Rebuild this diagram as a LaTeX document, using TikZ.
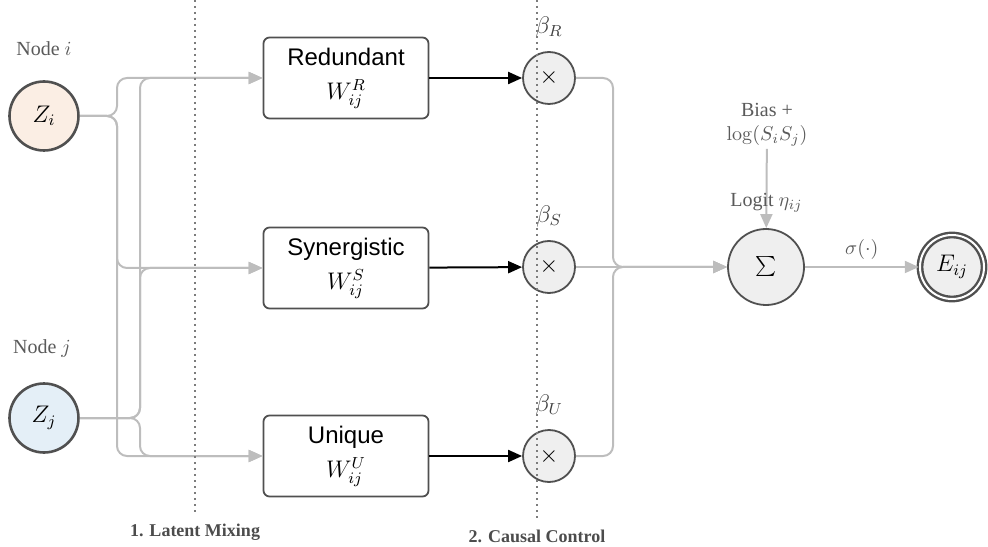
\documentclass[tikz,border=0pt]{standalone}
\usepackage[no-math]{fontspec}
\setmainfont{Liberation Serif}
\setsansfont{Liberation Sans}
\usetikzlibrary{arrows.meta,positioning}
\definecolor{wireGrey}{HTML}{BDBDBD}
\definecolor{edgeGrey}{HTML}{505050}
\definecolor{textGrey}{HTML}{5A5A5A}
\definecolor{gateFill}{HTML}{EFEFEF}
\definecolor{peachFill}{HTML}{FBEEE4}
\definecolor{blueFill}{HTML}{E4EFF7}

\begin{document}
\begin{tikzpicture}[x=10pt,y=10pt,
  latent/.style={circle, draw=edgeGrey, line width=1.3pt, minimum size=34.5pt, inner sep=0pt, font=\large},
  head/.style={draw=edgeGrey, line width=0.9pt, rounded corners=3pt, fill=white, minimum width=82.5pt, minimum height=40.5pt, align=center, font=\large\sffamily, inner sep=2pt},
  gate/.style={circle, draw=edgeGrey, line width=0.9pt, fill=gateFill, minimum size=26pt, inner sep=0pt, font=\large},
  sumnode/.style={gate, minimum size=38pt, font=\Large},
  edgenode/.style={circle, draw=edgeGrey, line width=1.2pt, double=white, double distance=1pt, fill=gateFill, minimum size=32pt, inner sep=0pt, font=\large},
  wire/.style={wireGrey, line width=1pt, rounded corners=5pt},
  feed/.style={wire, -{Triangle[length=7pt,width=6pt]}},
  push/.style={black, line width=1pt, -{Triangle[length=7pt,width=6pt]}},
  divider/.style={edgeGrey!75, dotted, line width=1pt},
  tag/.style={text=textGrey, font=\normalsize},
  weight/.style={text=edgeGrey!80!black, font=\large},
  stage/.style={text=textGrey!85!black, font=\small\bfseries},
]
  \useasboundingbox (0,0) rectangle (49.4,27.3);

  % Latent inputs
  \node[latent, fill=peachFill] (zi) at (2.2,21.5) {$Z_i$};
  \node[latent, fill=blueFill]  (zj) at (2.2,6.4)  {$Z_j$};
  \node[tag] (ni) at (2.2,24.85) {Node $i$};
  \node[tag] (nj) at (2.1,9.85) {Node $j$};

  % Decomposition heads
  \node[head] (red) at (17.3,23.4) {Redundant\\[3pt]$W_{ij}^{R}$};
  \node[head] (syn) at (17.3,13.9) {Synergistic\\[3pt]$W_{ij}^{S}$};
  \node[head] (uni) at (17.3,4.5)  {Unique\\[3pt]$W_{ij}^{U}$};

  % Gates with their weights
  \node[gate] (gr) at (27.45,23.4)  {$\times$};
  \node[gate] (gs) at (27.45,13.95) {$\times$};
  \node[gate] (gu) at (27.45,4.5)   {$\times$};
  \node[weight, above=3pt of gr] (br) {$\beta_R$};
  \node[weight, above=3pt of gs] (bs) {$\beta_S$};
  \node[weight, above=3pt of gu] (bu) {$\beta_U$};

  % Sum and output edge
  \node[sumnode] (sum) at (38.3,13.95) {$\sum$};
  \node[edgenode] (eij) at (47.6,13.95) {$E_{ij}$};
  \node[tag, align=center, inner sep=1pt] (bias) at (38.35,21.05) {Bias +\\$\log(S_iS_j)$};

  % Mixing wires
  \coordinate (ki) at (5.85,21.5);
  \coordinate (kj) at (7.0,6.4);
  \foreach \h in {red,syn,uni}{
    \draw[feed] (zi.east) -- (ki) |- (\h.west);
    \draw[feed] (zj.east) -- (kj) |- (\h.west);
  }

  \draw[push] (red) -- (gr);
  \draw[push] (syn) -- (gs);
  \draw[push] (uni) -- (gu);

  % Merge into the sum
  \coordinate (km) at (30.65,13.95);
  \draw[feed] (gr.east) -| (km) -- (sum.west);
  \draw[feed] (gs.east) -- (sum.west);
  \draw[feed] (gu.east) -| (km) -- (sum.west);

  \draw[feed] (bias) -- (sum) node[tag, pos=0.68] (logit) {Logit $\eta_{ij}$};
  \draw[feed] (sum) -- (eij) node[tag, midway, above] (sig) {$\sigma(\cdot)$};

  % Stage dividers
  \draw[divider] (9.75,27.3) -- (9.75,1.65);
  \draw[divider] (26.85,27.3) -- (26.85,1.3);
  \node[stage] (stage1) at (9.75,0.7) {1. Latent Mixing};
  \node[stage] (stage2) at (26.85,0.5) {2. Causal Control};
\end{tikzpicture}
\end{document}
